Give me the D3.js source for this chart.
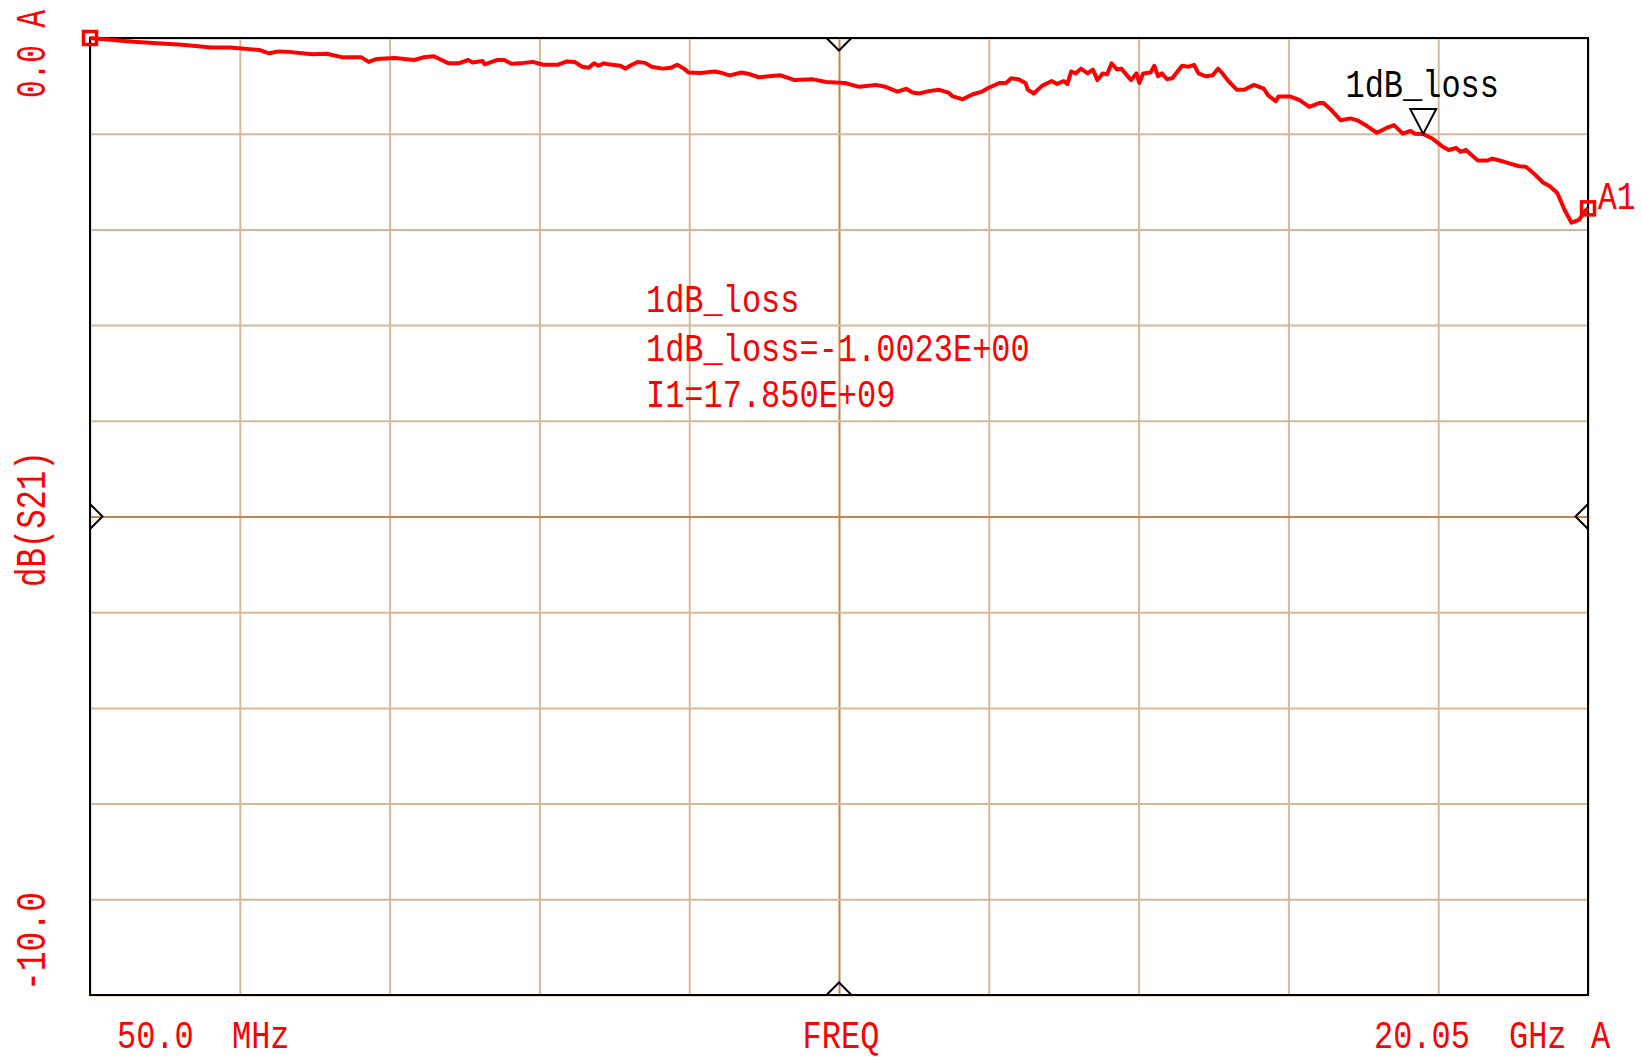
<!DOCTYPE html>
<html>
<head>
<meta charset="utf-8">
<script src="https://cdn.jsdelivr.net/npm/d3@7"></script>
<style>
  html, body { margin: 0; padding: 0; background: #ffffff; }
  svg { display: block; }
  text { font-family: "Liberation Mono", "DejaVu Sans Mono", monospace; }
</style>
</head>
<body>
<svg id="chart" width="1641" height="1060"></svg>
<script>
// ---------------- data ----------------
const freqGHz = [0.05,0.63,1.28,1.67,1.92,2.31,2.44,2.57,2.70,3.02,3.21,3.41,3.67,3.77,3.87,4.12,4.38,4.51,4.64,4.84,4.97,5.10,5.16,5.29,5.32,5.48,5.58,5.68,5.84,5.96,6.10,6.20,6.29,6.42,6.52,6.62,6.71,6.78,6.84,6.91,6.97,7.13,7.20,7.26,7.36,7.46,7.55,7.69,7.81,7.89,7.98,8.04,8.20,8.39,8.46,8.59,8.75,8.85,8.98,9.11,9.27,9.46,9.69,9.88,10.13,10.32,10.54,10.67,10.83,10.95,11.03,11.12,11.25,11.38,11.51,11.57,11.70,11.83,11.96,12.05,12.19,12.28,12.35,12.44,12.54,12.57,12.65,12.76,12.89,12.96,13.05,13.10,13.15,13.21,13.28,13.37,13.44,13.50,13.57,13.63,13.69,13.76,13.82,13.95,14.02,14.06,14.11,14.21,14.26,14.31,14.36,14.43,14.50,14.63,14.72,14.79,14.85,14.95,15.04,15.11,15.17,15.26,15.36,15.46,15.59,15.72,15.78,15.88,15.92,16.07,16.20,16.33,16.46,16.52,16.62,16.75,16.88,16.97,17.10,17.23,17.36,17.46,17.58,17.68,17.74,17.85,17.97,18.10,18.19,18.29,18.35,18.42,18.58,18.71,18.77,18.87,19.00,19.13,19.22,19.32,19.45,19.54,19.64,19.74,19.83,19.93,20.02,20.05];
const s21dB = [0.00,-0.04,-0.07,-0.10,-0.10,-0.125,-0.16,-0.14,-0.145,-0.17,-0.165,-0.20,-0.20,-0.25,-0.22,-0.21,-0.23,-0.20,-0.19,-0.265,-0.265,-0.23,-0.255,-0.24,-0.275,-0.23,-0.23,-0.27,-0.26,-0.25,-0.28,-0.28,-0.28,-0.245,-0.25,-0.30,-0.31,-0.265,-0.29,-0.265,-0.275,-0.29,-0.32,-0.29,-0.25,-0.26,-0.30,-0.32,-0.31,-0.28,-0.32,-0.36,-0.365,-0.35,-0.36,-0.39,-0.36,-0.376,-0.41,-0.40,-0.39,-0.44,-0.43,-0.46,-0.47,-0.51,-0.49,-0.51,-0.56,-0.53,-0.57,-0.58,-0.555,-0.54,-0.57,-0.61,-0.64,-0.59,-0.56,-0.52,-0.47,-0.47,-0.42,-0.43,-0.47,-0.54,-0.58,-0.50,-0.45,-0.48,-0.45,-0.48,-0.35,-0.37,-0.32,-0.37,-0.33,-0.44,-0.37,-0.38,-0.265,-0.33,-0.32,-0.44,-0.37,-0.47,-0.37,-0.36,-0.29,-0.40,-0.37,-0.43,-0.42,-0.29,-0.30,-0.28,-0.37,-0.40,-0.39,-0.32,-0.37,-0.46,-0.54,-0.54,-0.49,-0.53,-0.60,-0.66,-0.61,-0.61,-0.65,-0.72,-0.68,-0.68,-0.75,-0.86,-0.84,-0.86,-0.92,-0.99,-0.94,-0.91,-1.00,-0.97,-1.00,-1.0023,-1.05,-1.13,-1.17,-1.15,-1.19,-1.17,-1.28,-1.28,-1.26,-1.28,-1.31,-1.34,-1.345,-1.41,-1.51,-1.55,-1.62,-1.80,-1.93,-1.90,-1.80,-1.78];

const xGridGHz = [0.05,2.05,4.05,6.05,8.05,10.05,12.05,14.05,16.05,18.05,20.05];
const yGridDB = [0,-1,-2,-3,-4,-5,-6,-7,-8,-9,-10];
const xDomain = [0.05, 20.05];
const yDomain = [-10, 0];

const markerName = "1dB_loss";
const markerFreq = 17.85;
const markerValue = -1.0023;
const readoutLines = ["1dB_loss", "1dB_loss=-1.0023E+00", "I1=17.850E+09"];

const yTopLabel = "0.0 A";
const yBottomLabel = "-10.0";
const yTitle = "dB(S21)";
const xStartLabel = ["50.0", "MHz"];
const xTitle = "FREQ";
const xStopLabel = ["20.05", "GHz", "A"];
const traceLabel = "A1";

// ---------------- layout ----------------
const L = 90, R = 1588, T = 38, B = 995;
const RED = "#ff0000", GRID = "#d6b898", CENTER = "#c4864a";
const FS = 39, SX = 0.82;   // font size and horizontal squeeze
const BOTTOM_BASE = 1048;

const svg = d3.select("#chart");
const x = d3.scaleLinear().domain(xDomain).range([L, R]);
const y = d3.scaleLinear().domain(yDomain).range([B, T]);

// grid via axes
const gx = svg.append("g").attr("transform", `translate(0,${B})`)
  .call(d3.axisBottom(x).tickValues(xGridGHz).tickSize(-(B - T)).tickFormat(""));
const gy = svg.append("g").attr("transform", `translate(${L},0)`)
  .call(d3.axisLeft(y).tickValues(yGridDB).tickSize(-(R - L)).tickFormat(""));
[gx, gy].forEach(g => {
  g.select(".domain").remove();
  g.selectAll(".tick line").attr("stroke", GRID).attr("stroke-width", 2);
});
gx.selectAll(".tick line").filter(d => Math.abs(d - 10.05) < 1e-6).attr("stroke", CENTER).raise();
gy.selectAll(".tick line").filter(d => d === -5).attr("stroke", CENTER).raise();

// frame
svg.append("rect").attr("x", L).attr("y", T).attr("width", R - L).attr("height", B - T)
  .attr("fill", "none").attr("stroke", "#000").attr("stroke-width", 2);

// center chevrons
const cx = x(10.05), cy = y(-5), c = 12.5;
const chev = [
  [[cx - c, T], [cx, T + c], [cx + c, T]],
  [[cx - c, B], [cx, B - c], [cx + c, B]],
  [[L, cy - c], [L + c, cy], [L, cy + c]],
  [[R, cy - c], [R - c, cy], [R, cy + c]]
];
chev.forEach(p => svg.append("path").attr("d", d3.line()(p)).attr("fill", "none")
  .attr("stroke", "#000").attr("stroke-width", 2));

// trace
const pts = freqGHz.map((f, i) => [f, s21dB[i]]);
svg.append("path").datum(pts)
  .attr("d", d3.line().x(d => x(d[0])).y(d => y(d[1])))
  .attr("fill", "none").attr("stroke", RED).attr("stroke-width", 4)
  .attr("stroke-linejoin", "round");

// start / end squares
[pts[0], pts[pts.length - 1]].forEach(d => {
  svg.append("rect").attr("x", x(d[0]) - 6.5).attr("y", y(d[1]) - 6.5)
    .attr("width", 13).attr("height", 13)
    .attr("fill", "none").attr("stroke", RED).attr("stroke-width", 3.5);
});

// marker triangle
const mx = x(markerFreq), my = y(markerValue);
svg.append("path").attr("d", d3.line()([[mx - 13, my - 25], [mx + 13, my - 25], [mx, my]]) + "Z")
  .attr("fill", "none").attr("stroke", "#000").attr("stroke-width", 2);

function label(str, px, py, color, anchor, sx) {
  return svg.append("text")
    .attr("transform", `translate(${px},${py}) scale(${sx || SX},1)`)
    .attr("fill", color).attr("font-size", FS)
    .attr("text-anchor", anchor || "start")
    .text(str);
}

label(markerName, mx - 1, my - 37, "#000", "middle");

// readout
const rdY = [312, 361, 407];
readoutLines.forEach((s, i) => label(s, 646, rdY[i], RED));

// trace label
label(traceLabel, 1598, y(pts[pts.length - 1][1]) + 1, RED, "start", 0.8);

// bottom labels
label(xStartLabel[0], 117, BOTTOM_BASE, RED);
label(xStartLabel[1], 232, BOTTOM_BASE, RED);
label(xTitle, cx + 2, BOTTOM_BASE, RED, "middle");
label(xStopLabel[0], 1374, BOTTOM_BASE, RED);
label(xStopLabel[1], 1509, BOTTOM_BASE, RED);
label(xStopLabel[2], 1591, BOTTOM_BASE, RED);

// rotated y labels
function rlabel(str, py, sx) {
  svg.append("text").attr("transform", `translate(45,${py}) rotate(-90) scale(${sx},1)`)
    .attr("fill", RED).attr("font-size", 42)
    .text(str);
}
rlabel(yTopLabel, 98, 0.70);
rlabel(yBottomLabel, 991, 0.785);
rlabel(yTitle, 587, 0.77);
</script>
</body>
</html>
